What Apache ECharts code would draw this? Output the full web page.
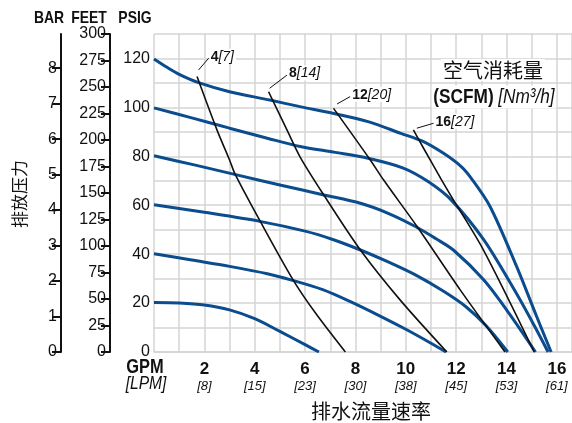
<!DOCTYPE html>
<html>
<head>
<meta charset="utf-8">
<script src="https://cdn.jsdelivr.net/npm/echarts@6/dist/echarts.min.js"></script>
<style>
  html, body { margin: 0; padding: 0; background: #fff; }
  #chart { width: 572px; height: 423px; }
</style>
</head>
<body>
<div id="chart"></div>
<script>
// x axis: GPM with LPM in brackets
var gpmTicks = [2, 4, 6, 8, 10, 12, 14, 16];
var lpmTicks = [8, 15, 23, 30, 38, 45, 53, 61];
// left axes
var psiTicks = [0, 20, 40, 60, 80, 100, 120];
var feetTicks = [0, 25, 50, 75, 100, 125, 150, 175, 200, 225, 250, 275, 300];
var barTicks = [0, 1, 2, 3, 4, 5, 6, 7, 8];

// discharge pressure curves [GPM, PSIG], one per air inlet pressure
var psi20 = [[0, 20.2], [1, 20], [2, 19.2], [3, 17.2], [4, 13.6], [5, 8.4], [6, 3], [6.55, 0]];
var psi40 = [[0, 40.2], [1.5, 37.6], [3, 35], [4.5, 32], [5.5, 29.3], [6.7, 25.5], [7.8, 20.6], [9, 14.6], [10, 9.3], [11, 3.6], [11.6, 0]];
var psi60 = [[0, 60.2], [2, 57.1], [4.2, 53.4], [6, 49.4], [7.1, 46], [8.2, 41.7], [9.3, 36.8], [10.4, 31.4], [11.5, 24.8], [12.4, 18.4], [13.2, 10.6], [14.05, 0]];
var psi80 = [[0, 80.2], [1.6, 76.5], [3.2, 72.6], [5, 68.3], [6.7, 64.3], [8.2, 60.8], [9.3, 56.7], [10.4, 51.2], [11.2, 46.3], [11.9, 41.6], [13.1, 29.4], [14.1, 15.8], [15.15, 0]];
var psi100 = [[0, 99.8], [1.5, 95.7], [3, 91.5], [4.5, 87.4], [5.8, 84], [7.2, 81.6], [8.5, 79.2], [9.9, 75.2], [10.9, 69.6], [11.8, 62.2], [13.1, 45.8], [14.4, 23.8], [15.1, 10.8], [15.65, 0]];
var psi120 = [[0, 119.8], [0.5, 116.5], [1, 113.5], [1.8, 110], [3, 106.4], [4.6, 103], [5.8, 100.3], [7.1, 97.6], [8.5, 94.2], [9.8, 89.4], [10.7, 86], [11.5, 81.2], [12.2, 75.8], [12.6, 71], [13.35, 59.4], [14.4, 35], [15.2, 14.4], [15.77, 0]];

// air consumption curves [GPM, PSIG]
var scfm4 = [[1.71, 112.6], [2.5, 90.8], [3.0, 78.5], [3.23, 72.5], [4.22, 53.4], [5.54, 29.2], [6.45, 15.4], [7.6, 0]];
var scfm8 = [[4.55, 106.4], [5.28, 90.8], [5.81, 79.6], [6.73, 64.4], [8.19, 41.8], [9.78, 21.2], [11.63, 0]];
var scfm12 = [[7.13, 99.6], [8.59, 78.5], [9.12, 70.3], [10.44, 51.4], [12.16, 25.4], [13.94, 0]];
var scfm16 = [[10.3, 90.8], [10.7, 83.4], [11.43, 70.2], [11.89, 62.2], [13.08, 41.8], [15.1, 0]];

// consumption labels: SCFM [Nm3/h] and their leader lines
var scfmValues = [4, 8, 12, 16];
var nm3Values = [7, 14, 20, 27];
var leaders = [
  [[1.77, 115.3], [2.17, 120.1]],
  [[4.59, 107.8], [5.28, 113.2]],
  [[7.27, 101.4], [7.79, 104.4]],
  [[10.44, 91.5], [11.1, 93.5]]
];

var FONT = "'Liberation Sans', Arial, sans-serif";
var CJK = "'Noto Sans CJK SC', sans-serif";
var BLUE = '#0b4c8e';
var GRID = '#d4d4d4';
var NARROW = 0.82; // squeeze graphic texts to look like a condensed face

var chart = echarts.init(document.getElementById('chart'));

function blue(data) {
  return { type: 'line', data: data, smooth: 0.3, symbol: 'none',
    lineStyle: { color: BLUE, width: 3 }, z: 3 };
}
function black(data) {
  return { type: 'line', data: data, smooth: 0.3, symbol: 'none',
    lineStyle: { color: '#111', width: 1.6 }, z: 4 };
}

var series = [psi20, psi40, psi60, psi80, psi100, psi120].map(blue)
  .concat([scfm4, scfm8, scfm12, scfm16].map(black));

leaders.forEach(function (seg, i) {
  series.push({
    type: 'line', symbol: 'none', z: 5, data: seg,
    lineStyle: { color: '#111', width: 1 },
    endLabel: {
      show: true, distance: 1, offset: [0, -2],
      backgroundColor: '#fff', padding: [1, 2, 0, 1],
      formatter: '{n|' + scfmValues[i] + '}{i|[' + nm3Values[i] + ']}',
      rich: {
        n: { fontFamily: FONT, fontWeight: 'bold', fontSize: 14, color: '#111' },
        i: { fontFamily: FONT, fontStyle: 'italic', fontSize: 14, color: '#111' }
      }
    }
  });
});

function sideAxis(max, offset, ticks) {
  return {
    type: 'value', position: 'left', offset: offset, min: 0, max: max,
    axisLine: { show: true, lineStyle: { color: '#111', width: 2 } },
    axisTick: { show: true, length: 9, lineStyle: { color: '#111', width: 2 }, customValues: ticks },
    axisLabel: { color: '#111', fontFamily: FONT, fontSize: 16, margin: 4, customValues: ticks },
    splitLine: { show: false }
  };
}

function txt(x, y, text, font, extra) {
  var el = { type: 'text', x: x, y: y, scaleX: NARROW, z: 10,
    style: { text: text, font: font, fill: '#111', align: 'center', verticalAlign: 'middle' } };
  if (extra) Object.assign(el.style, extra);
  return el;
}

chart.setOption({
  animation: false,
  backgroundColor: '#fff',
  grid: { left: 154, right: 0, top: 34, bottom: 71, outerBoundsMode: 'none' },
  xAxis: {
    type: 'value', min: 0, max: 16.6, interval: 1,
    axisLine: { show: true, lineStyle: { color: GRID, width: 1.5 } },
    axisTick: { show: false },
    splitLine: { show: true, lineStyle: { color: GRID, width: 1.5 } },
    axisLabel: {
      margin: 8, customValues: gpmTicks,
      formatter: function (v) {
        var k = gpmTicks.indexOf(v);
        return '{n|' + v + '}\n{l|[' + lpmTicks[k] + ']}';
      },
      rich: {
        n: { fontFamily: FONT, fontWeight: 'bold', fontSize: 17, color: '#111', lineHeight: 18 },
        l: { fontFamily: FONT, fontStyle: 'italic', fontSize: 13, color: '#111', lineHeight: 17 }
      }
    }
  },
  yAxis: [
    {
      type: 'value', min: 0, max: 130, interval: 10,
      axisLine: { show: false }, axisTick: { show: false },
      splitLine: { show: true, lineStyle: { color: GRID, width: 1.5 } },
      axisLabel: { color: '#111', fontFamily: FONT, fontSize: 16, margin: 4, customValues: psiTicks }
    },
    sideAxis(300, 44, feetTicks),
    sideAxis(130 / 14.5038, 93, barTicks)
  ],
  graphic: [
    txt(49, 18, 'BAR', 'bold 17px ' + FONT),
    txt(89, 18, 'FEET', 'bold 17px ' + FONT),
    txt(135, 18, 'PSIG', 'bold 17px ' + FONT),
    { type: 'text', x: 20, y: 194, rotation: Math.PI / 2,
      style: { text: '排放压力', font: '17px ' + CJK, fill: '#111', align: 'center', verticalAlign: 'middle' } },
    txt(145, 367, 'GPM', 'bold 20px ' + FONT),
    txt(146, 384, '[LPM]', 'italic 19px ' + FONT),
    { type: 'text', x: 371, y: 411,
      style: { text: '排水流量速率', font: '20px ' + CJK, fill: '#111', align: 'center', verticalAlign: 'middle' } },
    { type: 'text', x: 493, y: 70, z: 10,
      style: { text: '空气消耗量', font: '20px ' + CJK, fill: '#111', align: 'center', verticalAlign: 'middle',
        backgroundColor: '#fff', padding: [1, 2] } },
    txt(494, 97, '{b|(SCFM)} {i|[Nm³/h]}', '20px ' + FONT, {
      backgroundColor: '#fff', padding: [1, 2],
      rich: {
        b: { font: 'bold 21px ' + FONT, fill: '#111' },
        i: { font: 'italic 21px ' + FONT, fill: '#111' }
      }
    })
  ],
  series: series
});
</script>
</body>
</html>
